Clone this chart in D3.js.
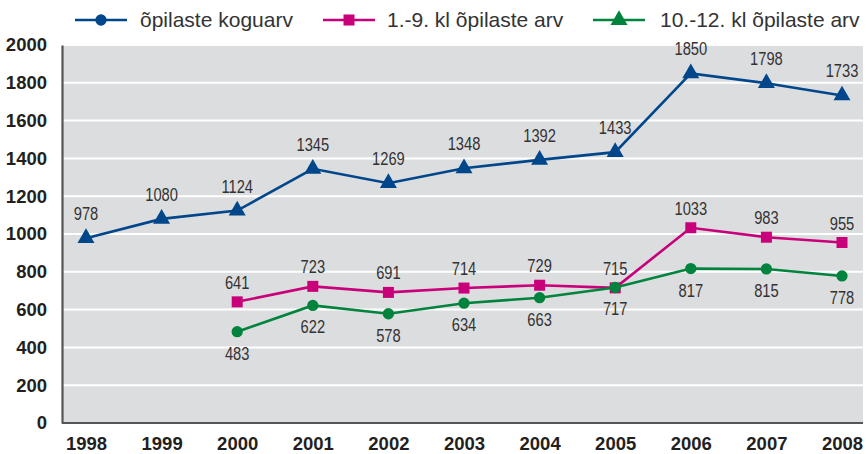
<!DOCTYPE html>
<html><head><meta charset="utf-8">
<script src="https://cdn.jsdelivr.net/npm/d3@7"></script>
<style>
body{margin:0;background:#fff;}
svg{display:block;}
</style></head>
<body>
<svg id="chart" width="866" height="454"></svg>
<script>
const years = ["1998","1999","2000","2001","2002","2003","2004","2005","2006","2007","2008"];
const totalStudents = [978,1080,1124,1345,1269,1348,1392,1433,1850,1798,1733];
const grade1to9 = [null,null,641,723,691,714,729,715,1033,983,955];
const grade10to12 = [null,null,483,622,578,634,663,717,817,815,778];
const yTicks = [0,200,400,600,800,1000,1200,1400,1600,1800,2000];
const seriesNames = ["õpilaste koguarv","1.-9. kl õpilaste arv","10.-12. kl õpilaste arv"];

(function(){
const svg = d3.select("#chart");
const pLeft = 62, pRight = 863, pTop = 45, pBottom = 423;
const x = d3.scalePoint().domain(years).range([86, 842]);
const y = d3.scaleLinear().domain([0,2000]).range([pBottom, pTop]);

svg.append("rect").attr("x",pLeft).attr("y",pTop).attr("width",pRight-pLeft).attr("height",pBottom-pTop).attr("fill","#dcdddf");

svg.append("g").selectAll("line").data(yTicks.filter(d=>d>0)).join("line")
  .attr("x1",pLeft).attr("x2",pRight).attr("y1",d=>y(d)).attr("y2",d=>y(d))
  .attr("stroke","#fff").attr("stroke-width",2);

const yAxis = svg.append("g").attr("transform",`translate(${pLeft},0)`)
  .call(d3.axisLeft(y).tickValues(yTicks).tickFormat(d3.format("d")).tickSize(0).tickPadding(15));
yAxis.select(".domain").attr("stroke","#555").attr("stroke-width",2.2);
yAxis.selectAll("text").attr("font-family","Liberation Sans, Arial, sans-serif").attr("font-weight","bold").attr("font-size","18.5px").attr("fill","#231f20");

const xAxis = svg.append("g").attr("transform",`translate(0,${pBottom})`)
  .call(d3.axisBottom(x).tickSize(0).tickPadding(14));
xAxis.select(".domain").attr("d",`M${pLeft},0H${pRight}`).attr("stroke","#555").attr("stroke-width",2.2);
xAxis.selectAll("text").attr("font-family","Liberation Sans, Arial, sans-serif").attr("font-weight","bold").attr("font-size","18.5px").attr("fill","#231f20");

const series = [
  {name:seriesNames[0], values:totalStudents, color:"#00468b", symbol:d3.symbolTriangle, size:125, legendSymbol:d3.symbolCircle, legendSize:100, dy:-18},
  {name:seriesNames[1], values:grade1to9, color:"#c8007a", symbol:d3.symbolSquare, size:121, legendSymbol:d3.symbolSquare, legendSize:121, dy:-13},
  {name:seriesNames[2], values:grade10to12, color:"#00843d", symbol:d3.symbolCircle, size:100, legendSymbol:d3.symbolTriangle, legendSize:125, dy:28}
];

const line = d3.line().defined(d=>d.v!=null).x(d=>x(d.year)).y(d=>y(d.v));

series.forEach(s=>{
  const pts = years.map((yr,i)=>({year:yr, v:s.values[i]}));
  svg.append("path").datum(pts).attr("d",line).attr("fill","none").attr("stroke",s.color).attr("stroke-width",2.6);
  svg.append("g").selectAll("path").data(pts.filter(d=>d.v!=null)).join("path")
    .attr("transform",d=>`translate(${x(d.year)},${y(d.v)})`)
    .attr("d",d3.symbol(s.symbol,s.size)).attr("fill",s.color);
  svg.append("g").selectAll("text").data(pts.filter(d=>d.v!=null)).join("text")
    .attr("transform",d=>`translate(${x(d.year)},${y(d.v)+s.dy}) scale(0.84,1)`)
    .attr("text-anchor","middle")
    .attr("font-family","Liberation Sans, Arial, sans-serif")
    .attr("font-size","17.5px").attr("fill","#333")
    .text(d=>d.v);
});

const legendPos = [{x:75,tx:140},{x:323,tx:387},{x:593,tx:660}];
series.forEach((s,i)=>{
  const g = svg.append("g");
  const lp = legendPos[i];
  g.append("line").attr("x1",lp.x).attr("x2",lp.x+52).attr("y1",20).attr("y2",20).attr("stroke",s.color).attr("stroke-width",2.6);
  g.append("path").attr("transform",`translate(${lp.x+26},20)`).attr("d",d3.symbol(s.legendSymbol,s.legendSize)).attr("fill",s.color);
  g.append("text").attr("x",lp.tx).attr("y",27).attr("font-family","Liberation Sans, Arial, sans-serif").attr("font-size","21px").attr("fill","#333").text(s.name);
});
})();
</script>
</body></html>
